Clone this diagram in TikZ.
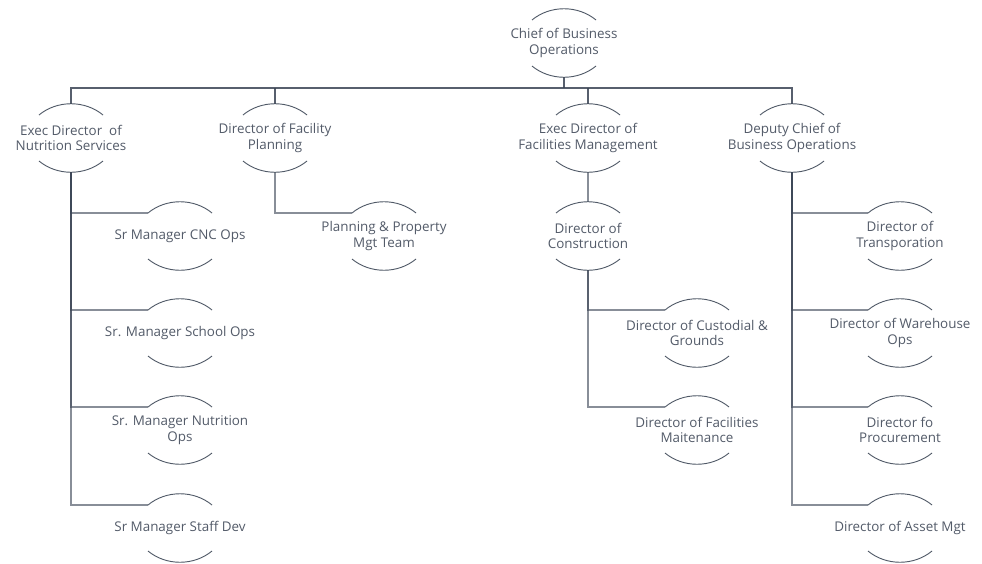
\documentclass[tikz,border=0pt]{standalone}
\usepackage{fontspec}
\setmainfont{Open Sans}
\usetikzlibrary{calc}
\definecolor{txt}{HTML}{535B69}
\definecolor{arcc}{HTML}{4F5866}
\definecolor{conn}{HTML}{3A4454}
\tikzset{
  lbl/.style={align=center,text=txt,font=\fontsize{13.4}{15.5}\selectfont,inner sep=0pt},
  arcline/.style={draw=arcc,line width=0.9pt},
  conline/.style={draw=conn,line width=1.3pt,draw opacity=0.6},
  busline/.style={draw=conn,line width=1.8pt,draw opacity=0.85},
}
\newcommand\orgbox[4]{%
  \node[lbl] (#1) at (#2,#3) {#4};
  \draw[arcline] ($(#1)+(-32,-23)$) .. controls ($(#1)+(-14,-38)$) and ($(#1)+(14,-38)$) .. ($(#1)+(32,-23)$);
  \draw[arcline] ($(#1)+(-32,23)$) .. controls ($(#1)+(-14,38)$) and ($(#1)+(14,38)$) .. ($(#1)+(32,23)$);
  \coordinate (#1-tl) at ($(#1)+(-32,-23)$);
  \coordinate (#1-top) at ($(#1)+(0,-34)$);
  \coordinate (#1-bot) at ($(#1)+(0,34)$);
}
\begin{document}
\begin{tikzpicture}[x=1pt,y=-1pt]
\useasboundingbox[fill=white] (0,0) rectangle (982,563);
% row A
\orgbox{chief}{564}{43}{Chief of Business\\Operations}
% row B
\orgbox{nut}{71}{138}{Exec Director\ \ of\\Nutrition Services}
\orgbox{fp}{275}{138}{Director of Facility\\Planning}
\orgbox{fm}{588}{138}{Exec Director of\\Facilities Management}
\orgbox{dep}{792}{138}{Deputy Chief of\\Business Operations}
% row C
\orgbox{cnc}{180}{236}{Sr Manager CNC Ops}
\orgbox{ppm}{384}{236}{Planning \& Property\\Mgt Team}
\orgbox{con}{588}{236}{Director of\\Construction}
\orgbox{tra}{900}{236}{Director of\\Transporation}
% row D
\orgbox{sch}{180}{333}{Sr. Manager School Ops}
\orgbox{cus}{697}{333}{Director of Custodial \&\\Grounds}
\orgbox{war}{900}{333}{Director of Warehouse\\Ops}
% row E
\orgbox{nops}{180}{430}{Sr. Manager Nutrition\\Ops}
\orgbox{fmt}{697}{430}{Director of Facilities\\Maitenance}
\orgbox{pro}{900}{430}{Director fo\\Procurement}
% row F
\orgbox{sdev}{180}{528}{Sr Manager Staff Dev}
\orgbox{ast}{900}{528}{Director of Asset Mgt}
% bus
\coordinate (busL) at ($(nut-top)+(0,-16)$);
\draw[busline] (nut-top) -- (busL) -| (dep-top);
\draw[busline] (chief-bot) -- (chief-bot |- busL);
\draw[busline] (fp-top) -- (fp-top |- busL);
\draw[busline] (fm-top) -- (fm-top |- busL);
% children
\foreach \c in {cnc,sch,nops,sdev} \draw[conline] (nut-bot) |- (\c-tl);
\draw[conline] (fp-bot) |- (ppm-tl);
\draw[conline] (fm-bot) -- (con-top);
\foreach \c in {cus,fmt} \draw[conline] (con-bot) |- (\c-tl);
\foreach \c in {tra,war,pro,ast} \draw[conline] (dep-bot) |- (\c-tl);
\end{tikzpicture}
\end{document}
